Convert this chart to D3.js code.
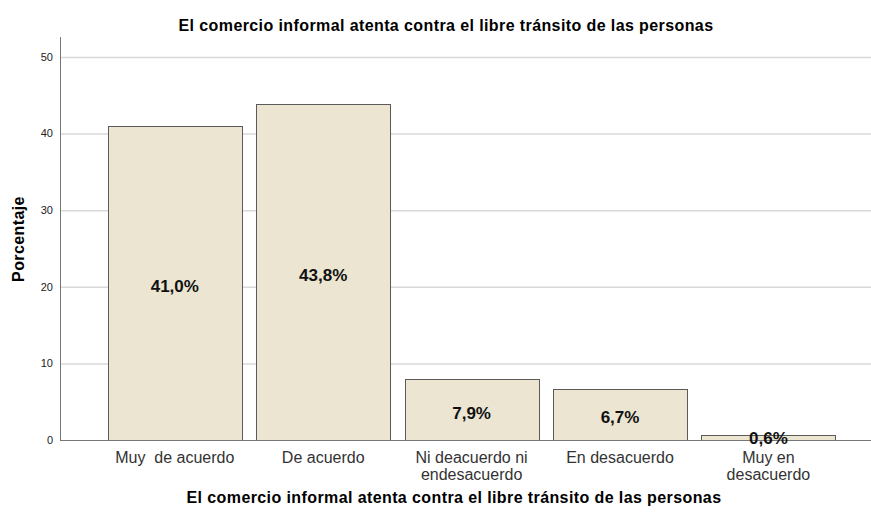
<!DOCTYPE html>
<html>
<head>
  <meta charset="utf-8">
  <title>Bar Chart</title>
  <style>
  body { margin: 0; background: #fff; }
  text { font-family: "Liberation Sans", Arial, sans-serif; }
  .grid line { stroke: #d9d9d9; stroke-width: 1.5px; }
  .grid path { display: none; }
  .bar { fill: #ebe5d1; stroke: #5a5a5a; stroke-width: 1px; }
  .bar-label { font-size: 17px; font-weight: bold; fill: #111; text-anchor: middle; }
  .title { font-size: 16px; letter-spacing: 0.4px; font-weight: bold; fill: #000; text-anchor: middle; }
  .cat { white-space: pre; }
  </style>
</head>
<body>
  <div id="chart"></div>
  <script src="https://cdn.jsdelivr.net/npm/d3@7/dist/d3.min.js"></script>
  <script>
  // chart data
  var categories = ["Muy  de acuerdo", "De acuerdo", "Ni deacuerdo ni endesacuerdo", "En desacuerdo", "Muy en desacuerdo"];
  var catLines = [["Muy  de acuerdo"], ["De acuerdo"], ["Ni deacuerdo ni", "endesacuerdo"], ["En desacuerdo"], ["Muy en", "desacuerdo"]];
  var percents = [41.0, 43.8, 7.9, 6.7, 0.6];
  var labels = ["41,0%", "43,8%", "7,9%", "6,7%", "0,6%"];
  var yTicks = [0, 10, 20, 30, 40, 50];

  var width = 871, height = 516;
  var plotLeft = 60, plotRight = 871, plotTop = 37, plotBottom = 440;

  var svg = d3.select("#chart").append("svg")
    .attr("width", width)
    .attr("height", height);

  var x = d3.scaleBand()
    .domain(categories)
    .range([100.6, 842.6])
    .paddingInner(0.097)
    .paddingOuter(0.0485);

  var y = d3.scaleLinear()
    .domain([0, 52.6])
    .range([plotBottom, plotTop]);

  //grid lines
  svg.append("g")
    .attr("class", "grid")
    .attr("transform", "translate(" + plotLeft + ",0)")
    .call(d3.axisRight(y).tickValues(yTicks.slice(1)).tickSize(plotRight - plotLeft).tickFormat(""));

  //y tick labels
  svg.append("g")
    .selectAll("text")
    .data(yTicks)
    .enter().append("text")
    .attr("x", 53)
    .attr("y", function(d) { return y(d); })
    .attr("dy", "0.35em")
    .attr("text-anchor", "end")
    .attr("font-size", 11)
    .attr("fill", "#222")
    .text(function(d) { return d; });

  //bars
  svg.selectAll(".bar")
    .data(percents)
    .enter().append("rect")
    .attr("class", "bar")
    .attr("x", function(d, i) { return Math.round(x(categories[i])) + 0.5; })
    .attr("y", function(d) { return Math.round(y(d)) + 0.5; })
    .attr("width", x.bandwidth())
    .attr("height", function(d) { return Math.round(y(0)) - Math.round(y(d)); });

  //axes lines
  svg.append("line")
    .attr("x1", plotLeft + 0.5).attr("x2", plotLeft + 0.5)
    .attr("y1", plotTop).attr("y2", plotBottom)
    .attr("stroke", "#777").attr("stroke-width", 1);
  svg.append("line")
    .attr("x1", plotLeft).attr("x2", plotRight)
    .attr("y1", plotBottom + 0.5).attr("y2", plotBottom + 0.5)
    .attr("stroke", "#777").attr("stroke-width", 1);

  //bar labels, centred in the bar (kept just above the baseline for tiny bars)
  svg.selectAll(".bar-label")
    .data(percents)
    .enter().append("text")
    .attr("class", "bar-label")
    .attr("x", function(d, i) { return x(categories[i]) + x.bandwidth() / 2; })
    .attr("y", function(d) { return Math.min((y(d) + y(0)) / 2 + 3, plotBottom - 2); })
    .attr("dy", "0.35em")
    .text(function(d, i) { return labels[i]; });

  //category labels
  var cat = svg.append("g").selectAll("text")
    .data(categories)
    .enter().append("text")
    .attr("class", "cat")
    .attr("x", function(d) { return x(d) + x.bandwidth() / 2; })
    .attr("y", 463)
    .attr("text-anchor", "middle")
    .attr("font-size", 16)
    .attr("fill", "#333");
  cat.selectAll("tspan")
    .data(function(d, i) { return catLines[i]; })
    .enter().append("tspan")
    .attr("x", function() { return this.parentNode.getAttribute("x"); })
    .attr("dy", function(d, i) { return i === 0 ? 0 : 16.5; })
    .text(function(d) { return d; });

  //titles
  svg.append("text")
    .attr("class", "title")
    .attr("x", 446)
    .attr("y", 31)
    .text("El comercio informal atenta contra el libre tránsito de las personas");

  svg.append("text")
    .attr("class", "title")
    .attr("x", 454)
    .attr("y", 503)
    .text("El comercio informal atenta contra el libre tránsito de las personas");

  svg.append("text")
    .attr("class", "title")
    .attr("transform", "translate(24," + 239 + ") rotate(-90)")
    .text("Porcentaje");
  </script>
</body>
</html>
